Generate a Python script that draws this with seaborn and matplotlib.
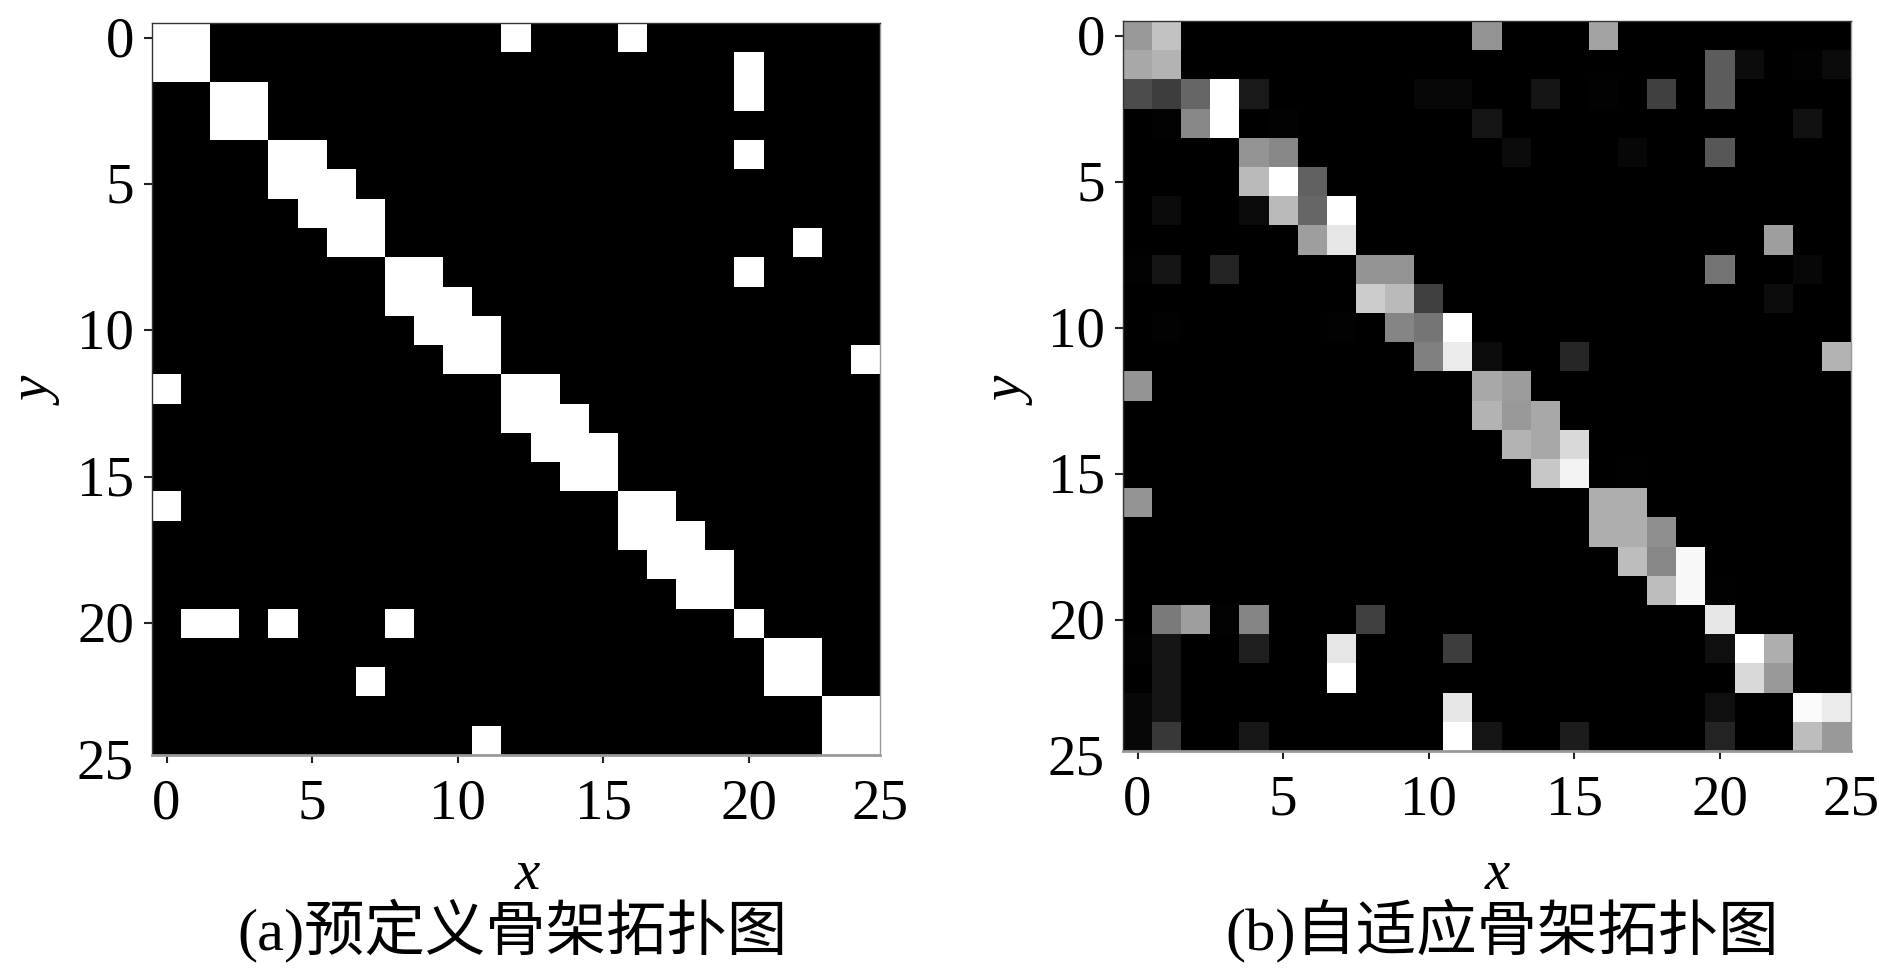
import numpy as np
import pandas as pd
import matplotlib
matplotlib.use("Agg")
import matplotlib.pyplot as plt
from matplotlib.transforms import ScaledTranslation
import seaborn as sns

# cell indices of the predefined skeleton topology (all cells = 1)
pre_rows = [0, 0, 1, 1, 2, 2, 3, 3,
            4, 4, 5, 5, 5, 6, 6, 6, 7, 7,
            8, 8, 9, 9, 9, 10, 10, 10, 11, 11,
            12, 12, 13, 13, 13, 14, 14, 14, 15, 15,
            16, 16, 17, 17, 17, 18, 18, 18, 19, 19,
            20, 21, 21, 22, 22, 23, 23, 24, 24,
            0, 0, 1, 2, 4, 7, 8, 11, 12, 16, 20, 20, 20, 20, 22, 24]
pre_cols = [0, 1, 0, 1, 2, 3, 2, 3,
            4, 5, 4, 5, 6, 5, 6, 7, 6, 7,
            8, 9, 8, 9, 10, 9, 10, 11, 10, 11,
            12, 13, 12, 13, 14, 13, 14, 15, 14, 15,
            16, 17, 16, 17, 18, 17, 18, 19, 18, 19,
            20, 21, 22, 21, 22, 23, 24, 23, 24,
            12, 16, 20, 20, 20, 22, 20, 24, 0, 0, 1, 2, 4, 8, 7, 11]

# adaptive skeleton topology, one group per matrix row: columns, then grey level
ada_cols_by_row = [
    [0, 1, 12, 16],
    [0, 1, 20, 21, 23, 24],
    [0, 1, 2, 3, 4, 10, 11, 14, 16, 18, 20],
    [1, 2, 3, 5, 12, 23],
    [4, 5, 13, 17, 20],
    [4, 5, 6],
    [1, 4, 5, 6, 7],
    [6, 7, 22],
    [0, 1, 3, 8, 9, 20, 23],
    [8, 9, 10, 22],
    [1, 7, 9, 10, 11],
    [10, 11, 12, 15, 24],
    [0, 12, 13],
    [12, 13, 14],
    [13, 14, 15],
    [14, 15, 17],
    [0, 16, 17],
    [16, 17, 18],
    [17, 18, 19],
    [18, 19, 20],
    [1, 2, 3, 4, 8, 20],
    [0, 1, 4, 7, 11, 20, 21, 22],
    [1, 7, 21, 22],
    [0, 1, 11, 20, 23, 24],
    [0, 1, 4, 11, 12, 15, 20, 23, 24],
]
ada_vals_by_row = [
    [.60, .76, .58, .64],
    [.66, .70, .36, .05, .01, .04],
    [.30, .24, .40, 1.0, .10, .03, .03, .08, .01, .25, .36],
    [.01, .53, 1.0, .01, .08, .07],
    [.58, .53, .04, .03, .34],
    [.73, 1.0, .38],
    [.04, .04, .73, .40, 1.0],
    [.62, .90, .62],
    [.01, .08, .14, .58, .58, .45, .03],
    [.80, .73, .25, .05],
    [.01, .01, .52, .46, 1.0],
    [.50, .92, .05, .15, .70],
    [.58, .66, .61],
    [.70, .60, .66],
    [.70, .66, .85],
    [.78, .95, .005],
    [.58, .68, .68],
    [.68, .68, .56],
    [.74, .53, .97],
    [.74, .97, .005],
    [.48, .62, .01, .52, .25, .90],
    [.01, .08, .12, .90, .24, .06, 1.0, .68],
    [.08, 1.0, .85, .60],
    [.03, .08, .90, .06, .98, .92],
    [.03, .22, .09, 1.0, .08, .11, .14, .74, .60],
]

tick_labels = ["0", "5", "10", "15", "20", "25"]
captions = ["(a)预定义骨架拓扑图", "(b)自适应骨架拓扑图"]

n_joints = 25

pre_df = pd.DataFrame(np.zeros((n_joints, n_joints)))
for r, c in zip(pre_rows, pre_cols):
    pre_df.loc[r, c] = 1.0

ada_df = pd.DataFrame(np.zeros((n_joints, n_joints)))
for r, (cols, vals) in enumerate(zip(ada_cols_by_row, ada_vals_by_row)):
    for c, v in zip(cols, vals):
        ada_df.loc[r, c] = v

sns.set_theme(style="white")
plt.rcParams["font.family"] = ["Liberation Serif", "Noto Sans CJK SC"]
plt.rcParams["text.color"] = "black"
plt.rcParams["xtick.labelcolor"] = "black"
plt.rcParams["ytick.labelcolor"] = "black"

W, H = 1879, 970
fig = plt.figure(figsize=(W / 100, H / 100), dpi=100)


def draw_panel(df, box, caption, cap_x, xlab_x, ylab_x):
    left, top, right, bottom = box
    ax = fig.add_axes([left / W, 1 - bottom / H, (right - left) / W, (bottom - top) / H])
    sns.heatmap(df, cmap="gray", vmin=0, vmax=1, cbar=False, ax=ax)

    ax.set_xticks([0.5, 5.5, 10.5, 15.5, 20.5, 25.0])
    ax.set_yticks([0.5, 5.5, 10.5, 15.5, 20.5, 25.0])
    ax.set_xticklabels(tick_labels, rotation=0, fontsize=41)
    ax.set_yticklabels(tick_labels, rotation=0, fontsize=41)
    ax.set_xlim(0, n_joints)
    ax.set_ylim(n_joints, 0)
    ax.tick_params(axis="both", length=6, width=1.5, color="#222222", left=True, bottom=True)
    ax.tick_params(axis="x", pad=10)
    ax.tick_params(axis="y", pad=7)
    # the "25" labels sit at the matrix edge and have no tick mark
    ax.xaxis.get_major_ticks()[-1].tick1line.set_visible(False)
    ax.yaxis.get_major_ticks()[-1].tick1line.set_visible(False)
    # digits sit a little below their ticks, the last one more so
    labels = ax.get_yticklabels()
    for lab in labels:
        drop = 6 if lab is labels[-1] else 2.5
        lab.set_transform(lab.get_transform() + ScaledTranslation(0, -drop / 72, fig.dpi_scale_trans))

    for side, spine in ax.spines.items():
        spine.set_visible(True)
        spine.set_color("#999999" if side in ("bottom", "right") else "#333333")
        spine.set_linewidth(2 if side == "bottom" else 1)

    ax.set_xlabel("")
    ax.set_ylabel("")
    fig.text(xlab_x / W, 1 - 875 / H, "x", style="italic", fontsize=41, ha="center", va="center")
    fig.text(ylab_x / W, 1 - 392 / H, "y", style="italic", fontsize=41, rotation=90,
             ha="center", va="center")
    fig.text(cap_x / W, 1 - 930 / H, caption, fontsize=43.5, ha="center", va="center")
    return ax


draw_panel(pre_df, (152, 24, 880, 756), captions[0], 512, 527, 39)
draw_panel(ada_df, (1123, 22, 1851, 752), captions[1], 1502, 1497, 1012)

plt.savefig("out.png", dpi=100)
